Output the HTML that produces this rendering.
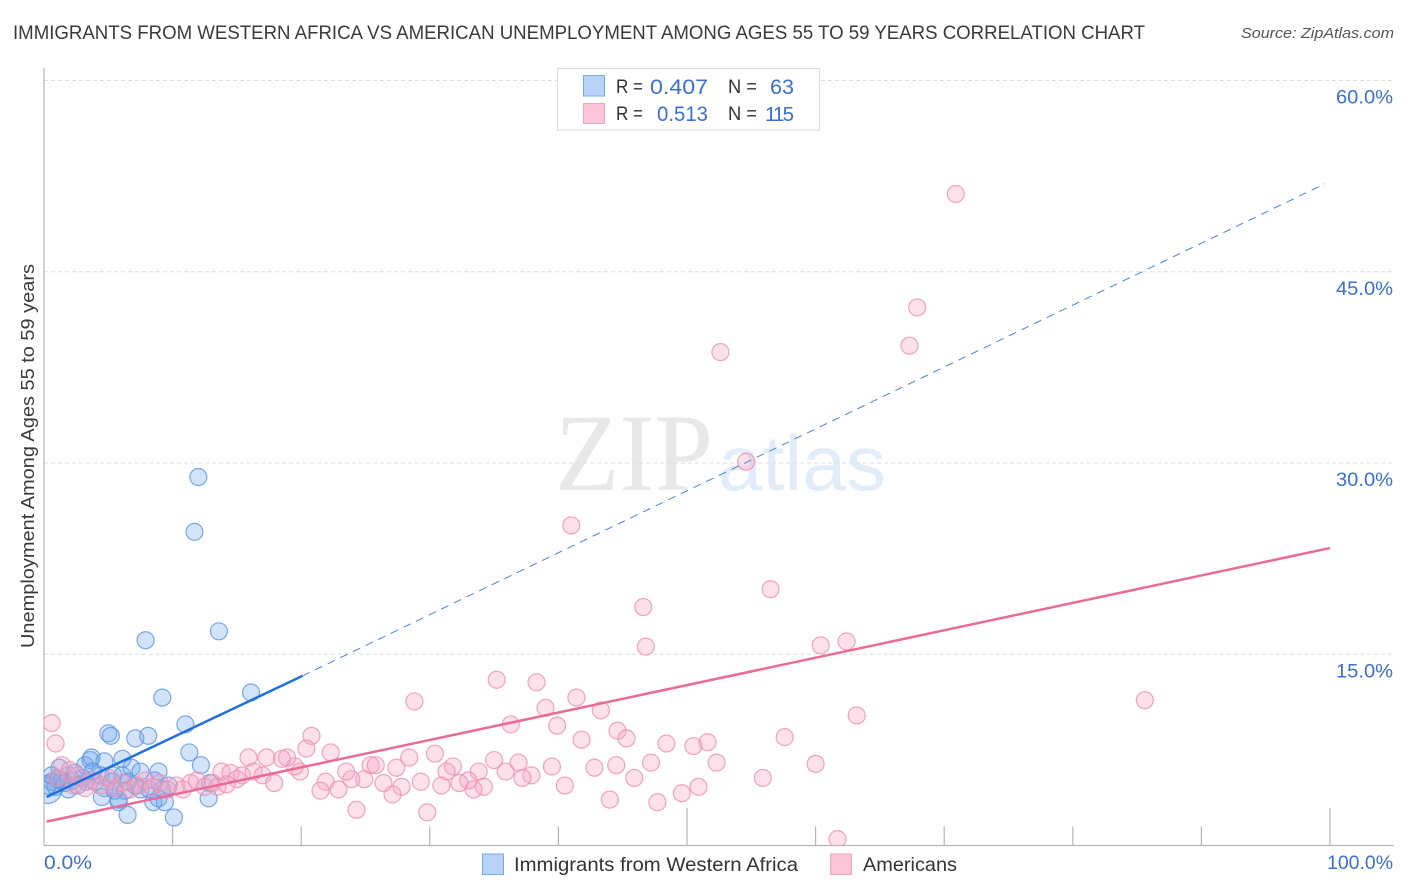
<!DOCTYPE html>
<html lang="en">
<head>
<meta charset="utf-8">
<title>Immigrants from Western Africa vs American Unemployment Correlation Chart</title>
<style>
html,body{margin:0;padding:0;background:#fff;width:1406px;height:892px;overflow:hidden}
svg{display:block;font-family:"Liberation Sans",sans-serif}
</style>
</head>
<body>
<svg id="chart" xmlns="http://www.w3.org/2000/svg" width="1406" height="892" viewBox="0 0 1406 892">
  <defs>
    <clipPath id="plot-clip"><rect x="44" y="68" width="1350" height="777.5"/></clipPath>
  </defs>
  <text x="13" y="39" font-size="19.5" fill="#3a3a3a" textLength="1132" lengthAdjust="spacingAndGlyphs">IMMIGRANTS FROM WESTERN AFRICA VS AMERICAN UNEMPLOYMENT AMONG AGES 55 TO 59 YEARS CORRELATION CHART</text>
  <text x="1241" y="38" font-size="15" font-style="italic" fill="#555" textLength="153" lengthAdjust="spacingAndGlyphs">Source: ZipAtlas.com</text>

  <g>
    <text x="555" y="490" font-family="'Liberation Serif',serif" font-size="110" fill="#e8e8e8" textLength="158" lengthAdjust="spacingAndGlyphs">ZIP</text>
    <text x="718" y="490" font-family="'Liberation Sans',sans-serif" font-size="78" fill="#e3ecf9" textLength="168" lengthAdjust="spacingAndGlyphs">atlas</text>
  </g>

  <g id="grid"></g>
  <g id="axes"></g>
  <g id="blue-points" clip-path="url(#plot-clip)"></g>
  <g id="pink-points" clip-path="url(#plot-clip)"></g>
  <g id="trends"></g>
  <g id="y-labels"></g>
  <g id="x-labels"></g>

  <text transform="translate(34,648) rotate(-90)" font-size="18" fill="#3a3a3a" textLength="384" lengthAdjust="spacingAndGlyphs">Unemployment Among Ages 55 to 59 years</text>

  <g>
    <rect x="557.5" y="68.5" width="262" height="61.5" fill="#fff" stroke="#dcdcdc" stroke-width="1"/>
    <rect x="583.5" y="75.5" width="21" height="20.5" fill="#b9d3f8" stroke="#78a8e8"/>
    <rect x="583.5" y="103.5" width="21" height="20" fill="#fcc5d8" stroke="#f3a3bd"/>
    <text x="616" y="93" font-size="19" fill="#333" textLength="27" lengthAdjust="spacingAndGlyphs">R =</text>
    <text x="650" y="94" font-size="21.5" fill="#3b6fd0" textLength="58" lengthAdjust="spacingAndGlyphs">0.407</text>
    <text x="728" y="93" font-size="19" fill="#333" textLength="29" lengthAdjust="spacingAndGlyphs">N =</text>
    <text x="770" y="94" font-size="21.5" fill="#3b6fd0" textLength="24" lengthAdjust="spacingAndGlyphs">63</text>
    <text x="616" y="120" font-size="19" fill="#333" textLength="27" lengthAdjust="spacingAndGlyphs">R =</text>
    <text x="657" y="121" font-size="21.5" fill="#3b6fd0" textLength="51" lengthAdjust="spacingAndGlyphs">0.513</text>
    <text x="728" y="120" font-size="19" fill="#333" textLength="29" lengthAdjust="spacingAndGlyphs">N =</text>
    <text x="765" y="121" font-size="20.5" fill="#3b6fd0" textLength="29" lengthAdjust="spacing">115</text>
  </g>

  <g>
    <rect x="482.5" y="854" width="21" height="20.5" fill="#b9d3f8" stroke="#78a8e8"/>
    <text x="514" y="871" font-size="19.5" fill="#333" textLength="284" lengthAdjust="spacingAndGlyphs">Immigrants from Western Africa</text>
    <rect x="830.5" y="854" width="21" height="20.5" fill="#fcc5d8" stroke="#f3a3bd"/>
    <text x="863" y="871" font-size="19.5" fill="#333" textLength="94" lengthAdjust="spacingAndGlyphs">Americans</text>
  </g>
</svg>
<script>
var yTicks = [15, 30, 45, 60];
var yTickLabels = ["15.0%", "30.0%", "45.0%", "60.0%"];
var xTicks = [10, 20, 30, 40, 50, 60, 70, 80, 90, 100];
var xEndLabels = ["0.0%", "100.0%"];
var blueX = [0.3,1.9,1.2,0.9,0.6,0.3,0.6,1.4,1.1,1.6,2.2,1.9,2.4,2.6,3.0,3.3,4.0,3.2,3.6,3.7,4.7,4.4,5.4,4.7,4.5,5.3,5.8,5.8,6.5,6.1,6.1,6.8,6.5,7.1,7.5,7.5,8.6,8.2,8.5,8.9,9.4,8.9,9.2,9.7,10.1,12.8,12.9,12.2,11.3,11.0,12.0,11.7,13.6,7.9,9.2,16.1,5.0,5.2,7.1,8.1,5.5,3.8,6.3];
var blueY = [4.4,4.4,6.1,4.6,5.0,4.7,5.5,5.1,5.2,4.9,5.1,5.5,5.7,4.7,5.3,5.0,5.0,6.3,6.7,6.9,6.6,5.5,5.5,4.5,3.8,5.0,3.4,3.6,2.4,6.8,5.5,6.1,5.0,4.7,5.8,4.4,5.1,4.4,3.4,3.7,3.4,5.8,4.4,4.7,2.2,3.7,4.9,6.3,7.3,9.5,28.9,24.6,16.8,16.1,11.6,12.0,8.8,8.6,8.4,8.6,4.3,5.8,4.3];
var pinkX = [70.9,67.9,67.3,52.6,54.6,41.0,56.5,46.6,46.8,60.4,62.4,85.6,63.2,35.2,38.3,41.4,28.8,39.0,43.3,36.3,39.9,44.6,45.3,41.8,48.4,50.5,51.6,57.6,60.0,52.3,55.9,47.2,45.9,44.5,42.8,39.5,50.9,49.6,47.7,44.0,40.5,61.7,20.8,20.4,22.3,30.4,28.4,25.4,25.8,27.4,31.8,31.3,33.8,35.0,35.9,36.9,37.9,37.2,34.2,33.4,33.0,32.3,30.9,29.3,27.8,27.1,26.4,24.9,23.9,23.5,21.9,21.5,22.9,24.3,29.8,19.9,19.5,18.9,18.5,0.6,0.9,15.9,17.3,13.8,14.5,15.4,16.3,17.0,15.0,17.9,1.4,2.0,2.6,3.2,3.7,4.4,5.0,5.5,6.1,6.7,7.3,7.9,8.4,9.0,9.6,10.3,10.8,11.4,11.9,12.5,13.1,13.5,1.0,2.3,14.2];
var pinkY = [51.1,42.2,39.2,38.7,30.1,25.1,20.1,18.7,15.6,15.7,16.0,11.4,10.2,13.0,12.8,11.6,11.3,10.8,10.6,9.5,9.4,9.0,8.4,8.3,8.0,7.8,8.1,8.5,6.4,6.5,5.3,6.5,5.3,6.3,6.1,6.2,4.6,4.1,3.4,3.6,4.7,0.5,8.6,7.6,7.3,7.2,6.9,6.3,6.3,6.1,6.2,5.8,5.8,6.7,5.8,6.5,5.5,5.3,4.6,4.4,5.1,4.9,4.7,5.0,4.6,4.0,4.9,5.2,5.2,5.8,5.0,4.3,4.4,2.8,2.6,5.8,6.2,6.9,6.8,9.6,8.0,6.9,6.9,5.8,5.7,5.5,5.8,5.5,5.2,4.9,6.3,5.9,5.5,4.5,5.1,4.7,5.3,4.5,4.9,4.4,4.7,5.1,4.6,4.9,4.4,4.7,4.4,4.9,5.1,4.6,4.9,4.6,5.3,4.7,4.8];
var blueSolidX = [0.2, 20.1];
var blueSolidY = [3.8, 13.3];
var blueDashX = [20.1, 99.6];
var blueDashY = [13.3, 51.9];
var pinkTrendX = [0.2, 100];
var pinkTrendY = [1.87, 23.33];

var NS = 'http://www.w3.org/2000/svg';
function xScale(v){ return 44 + v * 12.86; }
function yScale(v){ return 845.5 - v * 12.75; }
function make(tag, attrs, parent){
  var el = document.createElementNS(NS, tag);
  for (var k in attrs) el.setAttribute(k, attrs[k]);
  parent.appendChild(el);
  return el;
}

var grid = document.getElementById('grid');
var axes = document.getElementById('axes');
var yLabels = document.getElementById('y-labels');
var xLabels = document.getElementById('x-labels');

yTicks.forEach(function(t, i){
  var line = make('line', {x1:44, x2:1394, y1:yScale(t), y2:yScale(t), stroke:'#dedede', 'stroke-width':1, 'stroke-dasharray':'4 3'}, grid);
  
  
  var label = make('text', {x:1393, y:yScale(t)+23, 'text-anchor':'end', 'font-size':19.5, fill:'#3b6fd0', textLength:57, lengthAdjust:'spacingAndGlyphs'}, yLabels);
  
  
  label.textContent = yTickLabels[i];
});

var yAxis = make('line', {x1:44, x2:44, y1:68, y2:845.5, stroke:'#b5b5b5', 'stroke-width':1.2}, axes);


var xAxis = make('line', {x1:44, x2:1394, y1:845.5, y2:845.5, stroke:'#b5b5b5', 'stroke-width':1.2}, axes);



xTicks.forEach(function(t){
  var len = (t === 50 || t === 100) ? 37.5 : 19;
  var tick = make('line', {x1:xScale(t), x2:xScale(t), y1:845.5-len, y2:845.5, stroke:'#b5b5b5', 'stroke-width':1.2}, axes);
  
  
});

var xLabelLeft = make('text', {x:44, y:869, 'font-size':19.5, fill:'#3b6fd0', textLength:48, lengthAdjust:'spacingAndGlyphs'}, xLabels);


xLabelLeft.textContent = xEndLabels[0];
var xLabelRight = make('text', {x:1327, y:869, 'font-size':19.5, fill:'#3b6fd0', textLength:66, lengthAdjust:'spacingAndGlyphs'}, xLabels);


xLabelRight.textContent = xEndLabels[1];

var bluePoints = document.getElementById('blue-points');
blueX.forEach(function(v, i){
  var c = make('circle', {cx:xScale(v), cy:yScale(blueY[i]), r:i === 0 ? 14 : 8.5, fill:'#6ea6ee', 'fill-opacity':0.3, stroke:'#5b95e2', 'stroke-opacity':0.8, 'stroke-width':1.2}, bluePoints);
  
  
});

var pinkPoints = document.getElementById('pink-points');
pinkX.forEach(function(v, i){
  var c = make('circle', {cx:xScale(v), cy:yScale(pinkY[i]), r:8.5, fill:'#f7a8c4', 'fill-opacity':0.34, stroke:'#ee8fb0', 'stroke-opacity':0.8, 'stroke-width':1.2}, pinkPoints);
  
  
});

var trends = document.getElementById('trends');
var dashLine = make('line', {x1:xScale(blueDashX[0]), y1:yScale(blueDashY[0]), x2:xScale(blueDashX[1]), y2:yScale(blueDashY[1]), stroke:'#4f80d8', 'stroke-width':1, 'stroke-dasharray':'8 6'}, trends);


var blueLine = make('line', {x1:xScale(blueSolidX[0]), y1:yScale(blueSolidY[0]), x2:xScale(blueSolidX[1]), y2:yScale(blueSolidY[1]), stroke:'#1f70dc', 'stroke-width':2.5}, trends);


var pinkLine = make('line', {x1:xScale(pinkTrendX[0]), y1:yScale(pinkTrendY[0]), x2:xScale(pinkTrendX[1]), y2:yScale(pinkTrendY[1]), stroke:'#ea6a98', 'stroke-width':2.5}, trends);


</script>
</body>
</html>
